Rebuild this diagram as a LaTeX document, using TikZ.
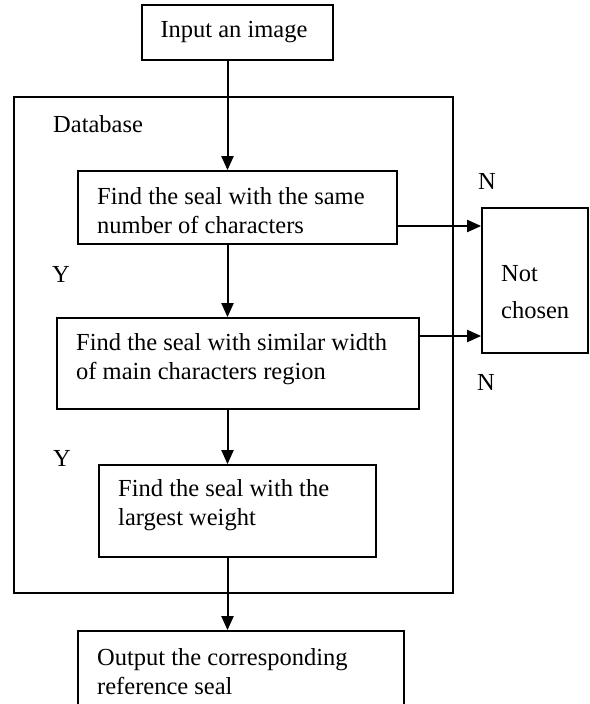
\documentclass[tikz,border=0pt]{standalone}
\usepackage{fontspec}
\setmainfont{Liberation Serif}
\usetikzlibrary{arrows.meta}
\begin{document}
\begin{tikzpicture}[x=1pt,y=-1pt,
  boxstyle/.style={draw,line width=1.7pt,inner sep=0pt},
  txt/.style={inner sep=0pt,font=\fontsize{24.5}{29}\selectfont,align=left},
  flow/.style={line width=2pt,-{Triangle[length=14pt,width=12pt]}}]
\useasboundingbox (0,0) rectangle (589,704);
\begin{scope}
\clip (0,0) rectangle (589,704);
% boxes
\node[boxstyle,minimum width=191pt,minimum height=55pt] (input) at (237.3,32.5) {};
\node[boxstyle,minimum width=439pt,minimum height=496pt] (db) at (233.5,345) {};
\node[boxstyle,minimum width=319pt,minimum height=73pt] (f1) at (237.5,207.5) {};
\node[boxstyle,minimum width=362pt,minimum height=91pt] (f2) at (238,363.5) {};
\node[boxstyle,minimum width=277pt,minimum height=92pt] (f3) at (237.5,511) {};
\node[boxstyle,minimum width=106pt,minimum height=145pt] (nc) at (535,280.5) {};
\node[boxstyle,minimum width=326pt,minimum height=80pt] (out) at (241,671) {};
% texts
\node[txt] (tinput) at (234,32) {Input an image};
\node[txt,anchor=west] (tdb) at (53,124) {Database};
\node[txt,anchor=west] (tf1) at (97,211) {Find the seal with the same\\number of characters};
\node[txt,anchor=west] (tf2) at (76,359) {Find the seal with similar width\\of main characters region};
\node[txt,anchor=west] (tf3) at (118,505) {Find the seal with the\\largest weight};
\node[txt,anchor=west] (tout) at (97,672) {Output the corresponding\\reference seal};
\node[txt,anchor=west,font=\fontsize{24.5}{37}\selectfont] (tnc) at (501,292) {Not\\chosen};
\node[txt] (n1) at (487,181) {N};
\node[txt] (n2) at (486,382) {N};
\node[txt] (y1) at (61,274) {Y};
\node[txt] (y2) at (62,458) {Y};
% connectors
\coordinate (sp) at (227.5,0);
\draw[flow] (input.south -| sp) -- (f1.north -| sp);
\draw[flow] (f1.south -| sp) -- (f2.north -| sp);
\draw[flow] (f2.south -| sp) -- (f3.north -| sp);
\draw[flow] (f3.south -| sp) -- (out.north -| sp);
\coordinate (a1) at (0,226);
\coordinate (a2) at (0,336);
\draw[flow] (f1.east |- a1) -- (nc.west |- a1);
\draw[flow] (f2.east |- a2) -- (nc.west |- a2);
\end{scope}
\end{tikzpicture}
\end{document}
